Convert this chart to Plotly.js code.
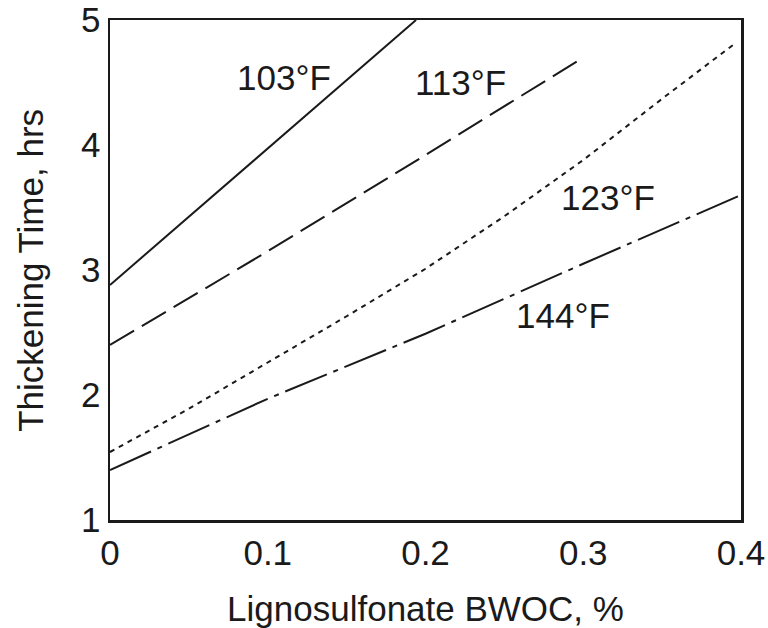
<!DOCTYPE html>
<html>
<head>
<meta charset="utf-8">
<script src="https://cdn.plot.ly/plotly-3.0.1.min.js"></script>
<style>html,body{margin:0;padding:0;background:#fff;}#chart{width:768px;height:628px;}</style>
</head>
<body>
<div id="chart"></div>
<script>
// Data
const x103 = [0, 0.1, 0.194];
const y103 = [2.88, 3.97, 5.0];

const x113 = [0, 0.1, 0.2, 0.3];
const y113 = [2.40, 3.15, 3.92, 4.70];

const x123 = [0, 0.05, 0.1, 0.15, 0.2, 0.25, 0.3, 0.35, 0.397];
const y123 = [1.544, 1.89, 2.26, 2.63, 3.01, 3.43, 3.88, 4.37, 4.82];

const x144 = [0, 0.1, 0.2, 0.3, 0.4];
const y144 = [1.40, 1.97, 2.49, 3.05, 3.60];

const labelText = ["103°F", "113°F", "123°F", "144°F"];
const labelX = [0.110, 0.2225, 0.316, 0.287];
const labelY = [4.54, 4.50, 3.58, 2.64];

const xTicks = [0, 0.1, 0.2, 0.3, 0.4];
const xTickText = ["0", "0.1", "0.2", "0.3", "0.4"];
const yTicks = [1, 2, 3, 4, 5];

const xTitle = "Lignosulfonate BWOC, %";
const yTitle = "Thickening Time, hrs";

const FONT = "Liberation Sans, Arial, Helvetica, sans-serif";
const INK = "#1a1a1a";
const FS = 35;

const traces = [
  {x: x103, y: y103, mode: "lines", line: {color: INK, width: 2, dash: "solid"}, name: "103°F"},
  {x: x113, y: y113, mode: "lines", line: {color: INK, width: 2, dash: "28px,9px"}, name: "113°F"},
  {x: x123, y: y123, mode: "lines", line: {color: INK, width: 2, dash: "5px,5px"}, name: "123°F"},
  {x: x144, y: y144, mode: "lines", line: {color: INK, width: 2, dash: "45px,7px,5px,7px"}, name: "144°F"}
];

const annotations = labelText.map((t, i) => ({
  x: labelX[i], y: labelY[i], xref: "x", yref: "y", text: t, showarrow: false,
  font: {family: FONT, size: FS, color: INK}, xanchor: "center", yanchor: "middle"
}));
annotations.push({
  x: -0.127, y: 0.5, xref: "paper", yref: "paper", text: yTitle, showarrow: false,
  textangle: -90, xanchor: "center", yanchor: "middle",
  font: {family: FONT, size: FS, color: INK}
});

const layout = {
  width: 768, height: 628,
  margin: {l: 110, r: 27, t: 20, b: 108},
  paper_bgcolor: "#fff", plot_bgcolor: "#fff",
  showlegend: false,
  font: {family: FONT, size: FS, color: INK},
  xaxis: {
    range: [0, 0.4], tickvals: xTicks, ticktext: xTickText,
    showgrid: false, zeroline: false, showline: true, mirror: true,
    linecolor: INK, linewidth: 2.5, ticks: "",
    tickfont: {family: FONT, size: FS, color: INK},
    title: {text: xTitle, font: {family: FONT, size: FS, color: INK}}
  },
  yaxis: {
    range: [1, 5], tickvals: yTicks,
    showgrid: false, zeroline: false, showline: true, mirror: true,
    linecolor: INK, linewidth: 2.5, ticks: "",
    tickfont: {family: FONT, size: FS, color: INK}
  },
  annotations: annotations
};

Plotly.newPlot("chart", traces, layout, {displayModeBar: false, staticPlot: true});
</script>
</body>
</html>
